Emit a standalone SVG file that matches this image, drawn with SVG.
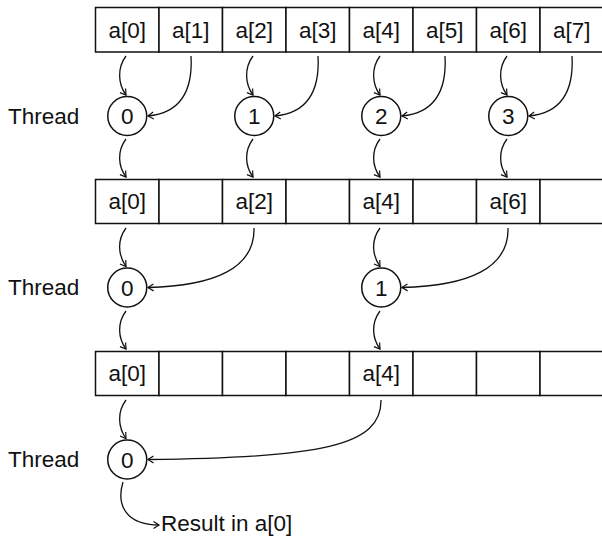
<svg xmlns="http://www.w3.org/2000/svg" width="602" height="542" viewBox="0 0 602 542">
<defs>
<marker id="ah" viewBox="-8 -5 10 10" refX="0" refY="0" markerWidth="10" markerHeight="10" markerUnits="userSpaceOnUse" orient="auto">
<path d="M -5.5 -3.5 L 0 0 L -5.5 3.5" fill="none" stroke="#111" stroke-width="1.2" stroke-linejoin="miter"/>
</marker>
</defs>
<style>
.cell{fill:#fff;stroke:#111;stroke-width:1.5}
.node{fill:#fff;stroke:#111;stroke-width:1.5}
text{font-family:"Liberation Sans",Arial,sans-serif;font-size:22.5px;fill:#111}
.c{text-anchor:middle}
.conn path{fill:none;stroke:#111;stroke-width:1.3;marker-end:url(#ah)}
</style>
<rect width="602" height="542" fill="#fff"/>

<g id="row1">
<rect class="cell" x="95.5" y="7.5" width="63.5" height="44.5"/>
<rect class="cell" x="159" y="7.5" width="63.5" height="44.5"/>
<rect class="cell" x="222.5" y="7.5" width="63.5" height="44.5"/>
<rect class="cell" x="286" y="7.5" width="63.5" height="44.5"/>
<rect class="cell" x="349.5" y="7.5" width="63.5" height="44.5"/>
<rect class="cell" x="413" y="7.5" width="63.5" height="44.5"/>
<rect class="cell" x="476.5" y="7.5" width="63.5" height="44.5"/>
<rect class="cell" x="540" y="7.5" width="63.5" height="44.5"/>
<text class="c" x="127.25" y="37.5">a[0]</text>
<text class="c" x="190.75" y="37.5">a[1]</text>
<text class="c" x="254.25" y="37.5">a[2]</text>
<text class="c" x="317.75" y="37.5">a[3]</text>
<text class="c" x="381.25" y="37.5">a[4]</text>
<text class="c" x="444.75" y="37.5">a[5]</text>
<text class="c" x="508.25" y="37.5">a[6]</text>
<text class="c" x="571.75" y="37.5">a[7]</text>
</g>

<g id="row2">
<rect class="cell" x="95.5" y="179.5" width="63.5" height="44"/>
<rect class="cell" x="159" y="179.5" width="63.5" height="44"/>
<rect class="cell" x="222.5" y="179.5" width="63.5" height="44"/>
<rect class="cell" x="286" y="179.5" width="63.5" height="44"/>
<rect class="cell" x="349.5" y="179.5" width="63.5" height="44"/>
<rect class="cell" x="413" y="179.5" width="63.5" height="44"/>
<rect class="cell" x="476.5" y="179.5" width="63.5" height="44"/>
<rect class="cell" x="540" y="179.5" width="63.5" height="44"/>
<text class="c" x="127.25" y="209">a[0]</text>
<text class="c" x="254.25" y="209">a[2]</text>
<text class="c" x="381.25" y="209">a[4]</text>
<text class="c" x="508.25" y="209">a[6]</text>
</g>

<g id="row3">
<rect class="cell" x="95.5" y="351.5" width="63.5" height="44"/>
<rect class="cell" x="159" y="351.5" width="63.5" height="44"/>
<rect class="cell" x="222.5" y="351.5" width="63.5" height="44"/>
<rect class="cell" x="286" y="351.5" width="63.5" height="44"/>
<rect class="cell" x="349.5" y="351.5" width="63.5" height="44"/>
<rect class="cell" x="413" y="351.5" width="63.5" height="44"/>
<rect class="cell" x="476.5" y="351.5" width="63.5" height="44"/>
<rect class="cell" x="540" y="351.5" width="63.5" height="44"/>
<text class="c" x="127.25" y="381">a[0]</text>
<text class="c" x="381.25" y="381">a[4]</text>
</g>

<g id="labels">
<text x="8" y="123.5">Thread</text>
<text x="8" y="295">Thread</text>
<text x="8" y="467">Thread</text>
<text x="161" y="531">Result in a[0]</text>
</g>

<g id="t1-0"><circle class="node" cx="127.25" cy="116" r="19.5"/><text class="c" x="127.25" y="124">0</text></g>
<g id="t1-1"><circle class="node" cx="254.25" cy="116" r="19.5"/><text class="c" x="254.25" y="124">1</text></g>
<g id="t1-2"><circle class="node" cx="381.25" cy="116" r="19.5"/><text class="c" x="381.25" y="124">2</text></g>
<g id="t1-3"><circle class="node" cx="508.25" cy="116" r="19.5"/><text class="c" x="508.25" y="124">3</text></g>
<g id="t2-0"><circle class="node" cx="127.25" cy="287.5" r="19.5"/><text class="c" x="127.25" y="295.5">0</text></g>
<g id="t2-1"><circle class="node" cx="381.25" cy="287.5" r="19.5"/><text class="c" x="381.25" y="295.5">1</text></g>
<g id="t3-0"><circle class="node" cx="127.25" cy="459.5" r="19.5"/><text class="c" x="127.25" y="467.5">0</text></g>

<g class="conn" id="connectors">
<path d="M 126 56 C 117 68, 118 84, 126 95"/>
<path d="M 191 56 C 193 92, 180 113, 148 116"/>
<path d="M 253 56 C 244 68, 245 84, 253 95"/>
<path d="M 318 56 C 320 92, 307 113, 275 116"/>
<path d="M 380 56 C 371 68, 372 84, 380 95"/>
<path d="M 445 56 C 447 92, 434 113, 402 116"/>
<path d="M 507 56 C 498 68, 499 84, 507 95"/>
<path d="M 572 56 C 574 92, 561 113, 529 116"/>
<path d="M 126 139 C 117 151, 118 166, 126 177"/>
<path d="M 253 139 C 244 151, 245 166, 253 177"/>
<path d="M 380 139 C 371 151, 372 166, 380 177"/>
<path d="M 507 139 C 498 151, 499 166, 507 177"/>
<path d="M 126 228 C 117 240, 118 255, 126 266.5"/>
<path d="M 254 228 C 255 268, 215 286, 148 287.5"/>
<path d="M 380 228 C 371 240, 372 255, 380 266.5"/>
<path d="M 508 228 C 509 268, 469 286, 402 287.5"/>
<path d="M 126 311 C 117 323, 118 338, 126 349"/>
<path d="M 380 311 C 371 323, 372 338, 380 349"/>
<path d="M 126 400 C 117 412, 118 427, 126 438.5"/>
<path d="M 381 400 C 382 446, 320 458, 148 459.5"/>
<path d="M 123 482 C 116 505, 126 525, 159 525"/>
</g>
</svg>
